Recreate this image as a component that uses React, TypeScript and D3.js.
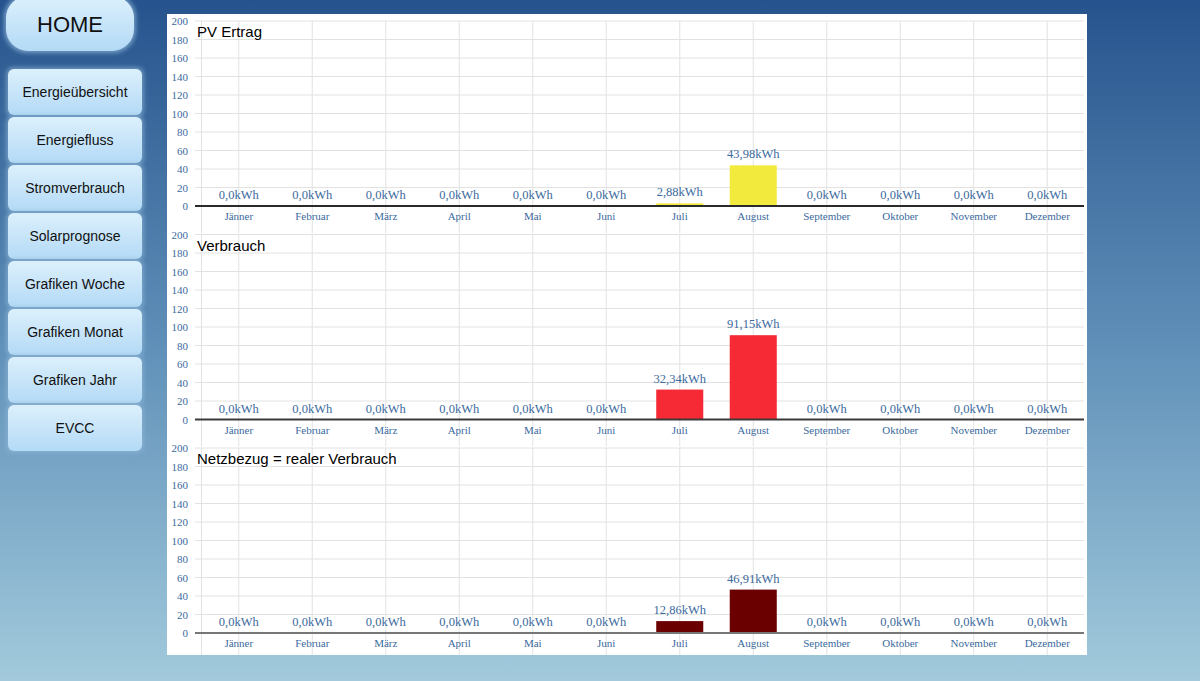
import React from "react";
import * as d3 from "d3";

const months = ["Jänner","Februar","März","April","Mai","Juni","Juli","August","September","Oktober","November","Dezember"];
const pvErtrag = [0,0,0,0,0,0,2.88,43.98,0,0,0,0];
const verbrauch = [0,0,0,0,0,0,32.34,91.15,0,0,0,0];
const netzbezug = [0,0,0,0,0,0,12.86,46.91,0,0,0,0];
const yTicks = [0,20,40,60,80,100,120,140,160,180,200];
const menuItems = ["Energieübersicht","Energiefluss","Stromverbrauch","Solarprognose","Grafiken Woche","Grafiken Monat","Grafiken Jahr","EVCC"];

const charts = [
  { title: "PV Ertrag", values: pvErtrag, color: "#f2eb3d", axis: "#2a2a2a" },
  { title: "Verbrauch", values: verbrauch, color: "#f52a35", axis: "#3a3a3a" },
  { title: "Netzbezug = realer Verbrauch", values: netzbezug, color: "#6b0000", axis: "#777777" },
];

const fmt = (v: number) => (v === 0 ? "0,0" : v.toFixed(2).replace(".", ",")) + "kWh";

const SERIF = "'Liberation Serif', 'Times New Roman', serif";
const SANS = "'Liberation Sans', Arial, sans-serif";
const LABEL = "#3b6a9e";

function Chart({ idx }: { idx: number }) {
  const c = charts[idx];
  const off = idx * 213.5;
  const y0 = 206 + off;
  const yT = 21 + off;
  const yB = Math.min(y0 + 27, 655);
  const x = d3.scaleBand<string>().domain(months).range([202, 1084]).paddingInner(0.36).paddingOuter(0.18);
  const xc = d3.scalePoint<string>().domain(months).range([202, 1084]).padding(0.5);
  const y = d3.scaleLinear().domain([0, 200]).range([y0, yT]);
  return (
    <g>
      {yTicks.map((t) => (
        <g key={t}>
          {t > 0 && <line x1={195} x2={1084} y1={y(t)} y2={y(t)} stroke="#e2e2e2" strokeWidth={1} />}
          <text x={188} y={y(t) + 4} textAnchor="end" fontFamily={SERIF} fontSize={11} fill={LABEL}>{t}</text>
        </g>
      ))}
      <line x1={201.5} x2={201.5} y1={yT} y2={yB} stroke="#e2e2e2" />
      {months.map((m) => (
        <line key={m} x1={xc(m)!} x2={xc(m)!} y1={yT} y2={yB} stroke="#e2e2e2" />
      ))}
      {months.map((m, i) => {
        const v = c.values[i];
        return (
          <g key={m}>
            {v > 0 && <rect x={x(m)!} width={x.bandwidth()} y={y(v)} height={y0 - y(v)} fill={c.color} />}
            <text x={xc(m)!} y={y(v) - 7} textAnchor="middle" fontFamily={SERIF} fontSize={12.5} fill={LABEL}>{fmt(v)}</text>
            <text x={xc(m)!} y={y0 + 14} textAnchor="middle" fontFamily={SERIF} fontSize={11} fill={LABEL}>{m}</text>
          </g>
        );
      })}
      <line x1={195} x2={1084} y1={y0} y2={y0} stroke={c.axis} strokeWidth={2} />
      <text x={197} y={37 + off} fontFamily={SANS} fontSize={15} fill="#000">{c.title}</text>
    </g>
  );
}

export default function App() {
  return (
    <div style={{ position: "fixed", left: 0, top: 0, width: 1200, height: 681 }}>
      <svg width={1200} height={681} style={{ display: "block" }}>
        <defs>
          <linearGradient id="bg" x1="0" y1="0" x2="0" y2="1">
            <stop offset="0" stopColor="#26538d" />
            <stop offset="0.5" stopColor="#5f8fb8" />
            <stop offset="1" stopColor="#a2cadc" />
          </linearGradient>
          <linearGradient id="btn" x1="0" y1="0" x2="0" y2="1">
            <stop offset="0" stopColor="#dcf0fc" />
            <stop offset="1" stopColor="#b3daf6" />
          </linearGradient>
          <filter id="glow" x="-20%" y="-20%" width="140%" height="140%">
            <feGaussianBlur stdDeviation="2" />
          </filter>
        </defs>
        <rect x={0} y={0} width={1200} height={681} fill="url(#bg)" />
        <rect x={4} y={-6} width={132} height={59} rx={23} fill="#8fb7d8" opacity={0.7} filter="url(#glow)" />
        <rect x={6} y={-4} width={128} height={55} rx={22} fill="url(#btn)" />
        <text x={70} y={32} textAnchor="middle" fontFamily={SANS} fontSize={22} fill="#111">HOME</text>
        {menuItems.map((m, i) => {
          const by = 69 + i * 48;
          return (
            <g key={m}>
              <rect x={6} y={by - 2} width={138} height={50} rx={7} fill="#8fb7d8" opacity={0.6} filter="url(#glow)" />
              <rect x={8} y={by} width={134} height={46} rx={6} fill="url(#btn)" />
              <text x={75} y={by + 28} textAnchor="middle" fontFamily={SANS} fontSize={14} fill="#111">{m}</text>
            </g>
          );
        })}
        <rect x={167} y={14} width={920} height={641} fill="#ffffff" />
        {charts.map((_, i) => <Chart key={i} idx={i} />)}
      </svg>
    </div>
  );
}
